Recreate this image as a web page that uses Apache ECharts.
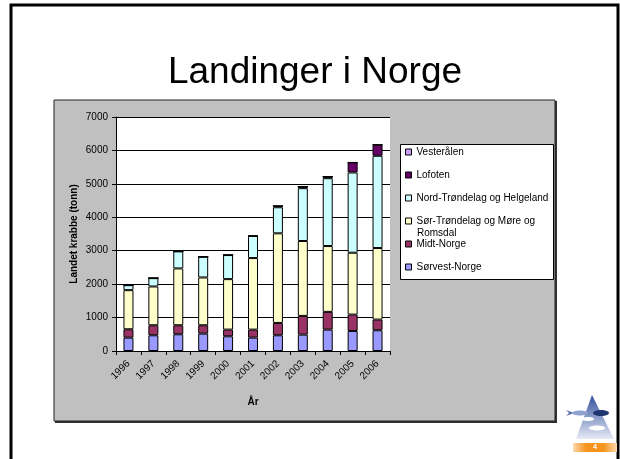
<!DOCTYPE html>
<html>
<head>
<meta charset="utf-8">
<script src="https://cdn.jsdelivr.net/npm/echarts@6/dist/echarts.min.js"></script>
<style>
  html, body { margin: 0; padding: 0; background: #fff; }
  #chart { width: 620px; height: 459px; }
</style>
</head>
<body>
<div id="chart"></div>
<script>
// landings per region (tonn)
const years = ['1996', '1997', '1998', '1999', '2000', '2001', '2002', '2003', '2004', '2005', '2006']
const sorvestNorge = [400, 470, 500, 520, 440, 400, 470, 490, 640, 600, 620]
const midtNorge = [250, 300, 270, 250, 200, 240, 370, 560, 530, 490, 320]
const sorTrondelag = [1170, 1160, 1700, 1430, 1510, 2140, 2680, 2240, 1970, 1850, 2140]
const nordTrondelag = [150, 250, 510, 620, 720, 660, 780, 1580, 2030, 2400, 2760]
const lofoten = [0, 0, 0, 0, 0, 0, 40, 50, 50, 300, 330]
const vesteralen = [0, 0, 0, 0, 0, 0, 0, 0, 0, 0, 0]
const yTicks = [0, 1000, 2000, 3000, 4000, 5000, 6000, 7000]

const SOR_NAME = 'Sør-Trøndelag og Møre og Romsdal'
const font = 'Liberation Sans, Arial, sans-serif'

// stacked bottom -> top
const layers = [
  { name: 'Sørvest-Norge', data: sorvestNorge, color: '#9999FF' },
  { name: 'Midt-Norge', data: midtNorge, color: '#993366' },
  { name: SOR_NAME, data: sorTrondelag, color: '#FFFFCC' },
  { name: 'Nord-Trøndelag og Helgeland', data: nordTrondelag, color: '#CCFFFF' },
  { name: 'Lofoten', data: lofoten, color: '#660066' },
  { name: 'Vesterålen', data: vesteralen, color: '#CC99FF' }
]

const chart = echarts.init(document.getElementById('chart'), null, { renderer: 'canvas' })

chart.setOption({
  animation: false,
  backgroundColor: '#fff',
  textStyle: { fontFamily: font },
  title: {
    text: 'Landinger i Norge',
    left: 315,
    textAlign: 'center',
    top: 54,
    padding: 0,
    textStyle: { fontSize: 37, fontWeight: 'normal', color: '#000', fontFamily: font }
  },
  grid: {
    left: 116,
    right: 230,
    top: 117,
    bottom: 108,
    show: true,
    backgroundColor: '#fff',
    borderWidth: 0
  },
  legend: {
    data: layers.map(l => l.name).reverse(),
    orient: 'vertical',
    left: 405,
    top: 146,
    padding: 0,
    itemGap: 11,
    itemWidth: 6,
    itemHeight: 6,
    icon: 'rect',
    selectedMode: false,
    itemStyle: { borderColor: '#000', borderWidth: 1 },
    textStyle: { fontSize: 10, color: '#000', lineHeight: 12, fontFamily: font },
    formatter: name => (name === SOR_NAME ? 'Sør-Trøndelag og Møre og' : name)
  },
  xAxis: {
    type: 'category',
    data: years,
    name: 'År',
    nameLocation: 'middle',
    nameGap: 46,
    nameTextStyle: { fontSize: 10, fontWeight: 'bold', color: '#000' },
    axisLine: { lineStyle: { color: '#000', width: 1 } },
    axisTick: { show: true, alignWithLabel: false, length: 4, lineStyle: { color: '#000' } },
    axisLabel: { rotate: 45, fontSize: 10, color: '#000', margin: 11, interval: 0 },
    splitLine: { show: false }
  },
  yAxis: {
    type: 'value',
    min: yTicks[0],
    max: yTicks[yTicks.length - 1],
    interval: 1000,
    name: 'Landet krabbe (tonn)',
    nameLocation: 'middle',
    nameGap: 37,
    nameTextStyle: { fontSize: 10, fontWeight: 'bold', color: '#000' },
    axisLine: { show: true, lineStyle: { color: '#000', width: 1 } },
    axisTick: { show: true, length: 4, lineStyle: { color: '#000' } },
    axisLabel: { fontSize: 10, color: '#000', margin: 8, formatter: v => String(v) },
    splitLine: { show: true, lineStyle: { color: '#000', width: 1 } }
  },
  series: layers.map(l => ({
    name: l.name,
    type: 'bar',
    stack: 'total',
    barWidth: 10,
    data: l.data,
    itemStyle: { color: l.color, borderColor: '#000', borderWidth: 1 }
  })),
  graphic: [
    // slide frame
    { type: 'rect', z: -5, shape: { x: 11, y: 5, width: 607, height: 470 },
      style: { fill: 'none', stroke: '#000', lineWidth: 3 } },
    // chart area (grey)
    { type: 'rect', z: -4, shape: { x: 55, y: 101, width: 502, height: 322 },
      style: { fill: '#333' } },
    { type: 'rect', z: -3, shape: { x: 54, y: 100, width: 501, height: 321 },
      style: { fill: '#C0C0C0', stroke: '#222', lineWidth: 1 } },
    // legend box
    { type: 'rect', z: 1, shape: { x: 400.5, y: 144.5, width: 153, height: 135 },
      style: { fill: '#fff', stroke: '#000', lineWidth: 1 } },
    { type: 'text', z: 5, x: 417, y: 228,
      style: { text: 'Romsdal', fontSize: 10, fontFamily: font, fill: '#000' } },
    // logo
    { type: 'polygon', z: 1, shape: { points: [[592, 395], [576, 439], [614, 439]] },
      style: { fill: new echarts.graphic.LinearGradient(0, 0, 0, 1, [
        { offset: 0, color: '#2F4E9C' }, { offset: 1, color: '#E6EAF6' }]) } },
    { type: 'ellipse', z: 2, shape: { cx: 601, cy: 413, rx: 8, ry: 3 }, style: { fill: '#1E3570' } },
    { type: 'polygon', z: 2, shape: { points: [[566, 410], [574, 413], [566, 416], [569, 413]] }, style: { fill: '#5A6FA8' } },
    { type: 'ellipse', z: 2, shape: { cx: 580, cy: 413, rx: 8, ry: 2.5 }, style: { fill: '#8FA2D0' } },
    { type: 'ellipse', z: 2, shape: { cx: 588, cy: 419, rx: 6, ry: 2 }, style: { fill: '#fff' } },
    { type: 'ellipse', z: 2, shape: { cx: 597, cy: 428, rx: 8, ry: 2.5 }, style: { fill: '#fff' } },
    { type: 'rect', z: 1, shape: { x: 573, y: 443, width: 44, height: 9 },
      style: { fill: new echarts.graphic.LinearGradient(0, 0, 1, 0, [
        { offset: 0, color: '#FCD9B0' }, { offset: 0.3, color: '#F7941D' },
        { offset: 0.7, color: '#F7941D' }, { offset: 1, color: '#FCD9B0' }]) } },
    { type: 'text', z: 2, x: 595, y: 447.5,
      style: { text: '4', fontSize: 7, fontWeight: 'bold', fontFamily: font, fill: '#fff',
        align: 'center', verticalAlign: 'middle' } }
  ]
})
</script>
</body>
</html>
